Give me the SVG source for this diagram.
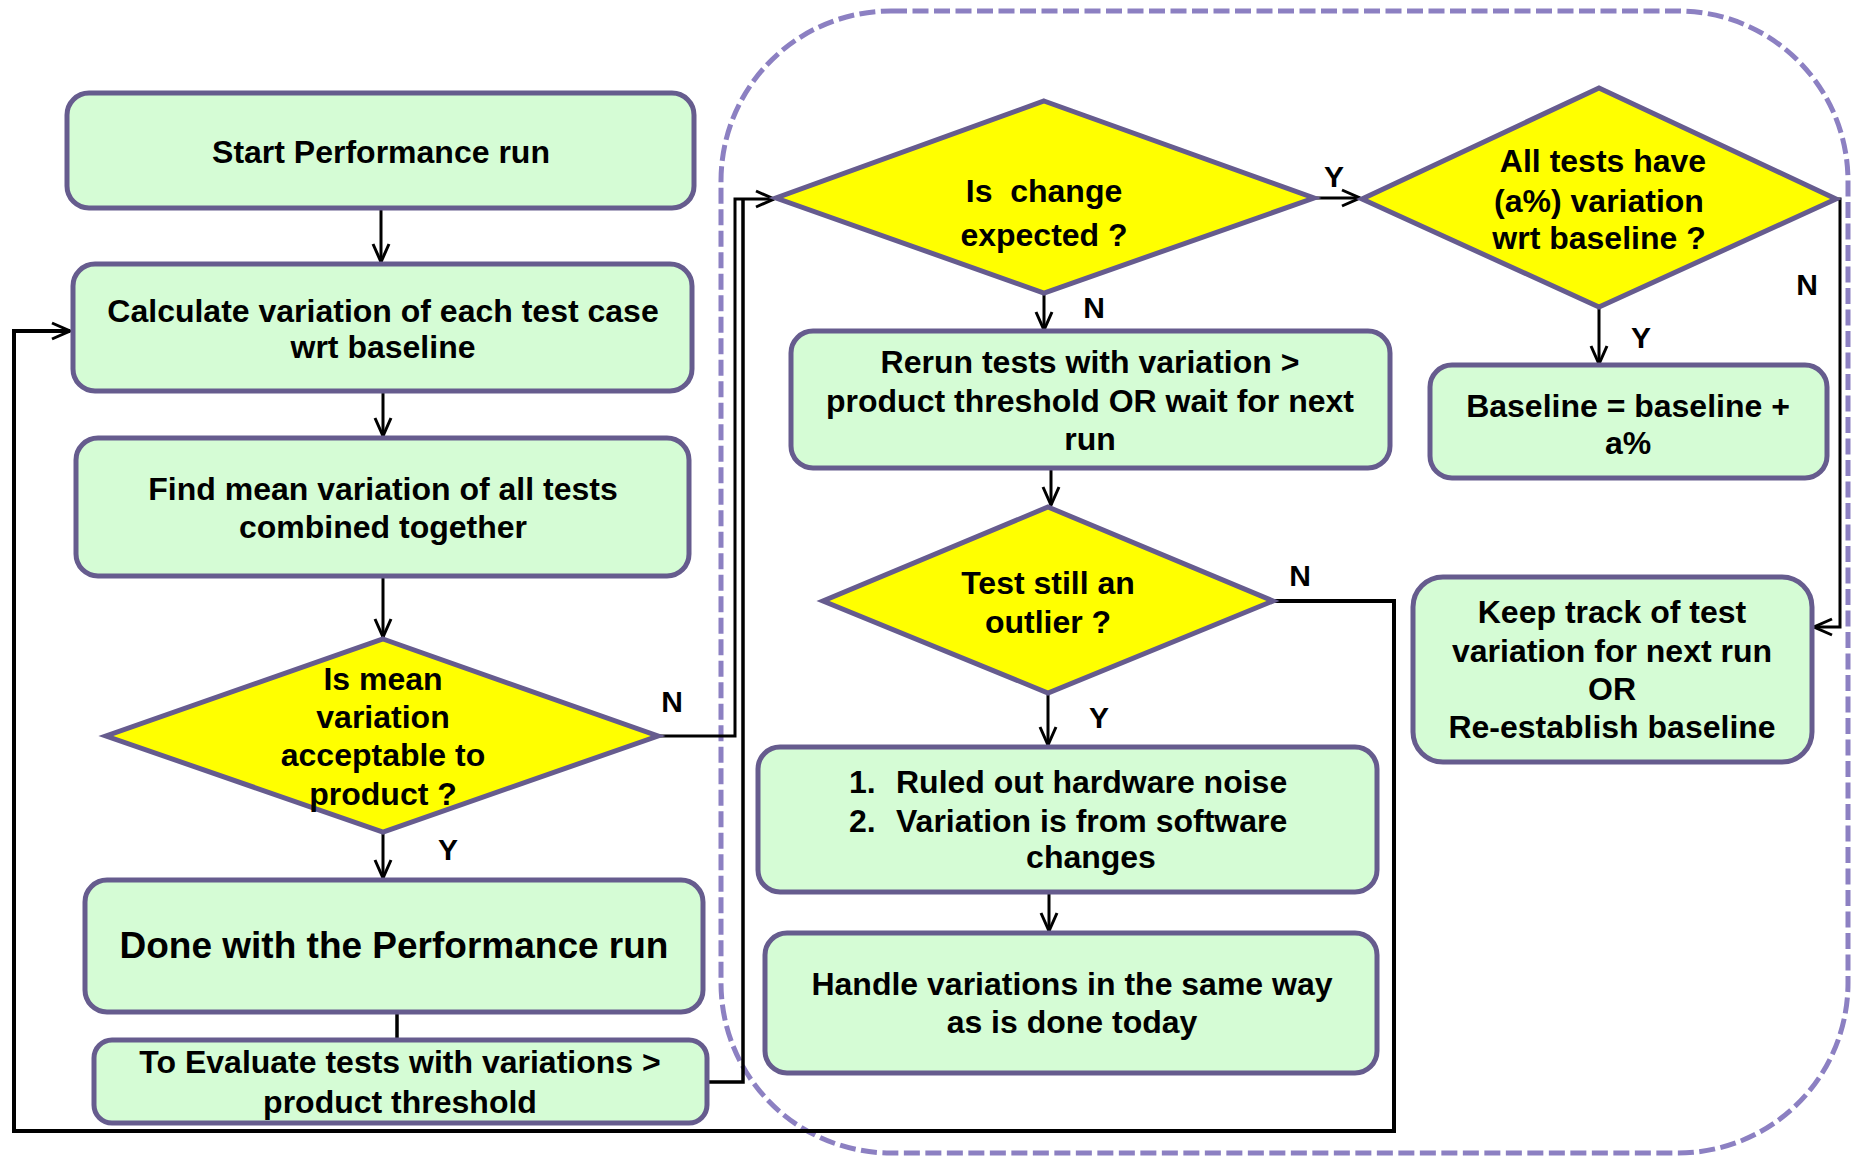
<svg xmlns="http://www.w3.org/2000/svg" width="1852" height="1156" viewBox="0 0 1852 1156">
<style>
.box{fill:#d5fcd5;stroke:#665c8e;stroke-width:5}
.dia{fill:#ffff00;stroke:#665c8e;stroke-width:5;stroke-linejoin:miter}
.t{font-family:"Liberation Sans",Arial,sans-serif;font-weight:bold;font-size:32px;fill:#000;text-anchor:middle}
.big{font-size:37px}
.lbl{font-family:"Liberation Sans",Arial,sans-serif;font-weight:bold;font-size:30px;fill:#000;text-anchor:middle}
.c{fill:none;stroke:#000;stroke-width:3.5}
.ca{fill:none;stroke:#000;stroke-width:3;marker-end:url(#ah)}
.grp{fill:none;stroke:#8c80c2;stroke-width:5;stroke-dasharray:16 5.5}
</style>
<defs>
<marker id="ah" viewBox="0 0 20 20" refX="19" refY="10" markerWidth="20" markerHeight="20" markerUnits="userSpaceOnUse" orient="auto">
<path d="M1,2 L19,10 L1,18" fill="none" stroke="#000" stroke-width="3"/>
</marker>
</defs>
<rect width="1852" height="1156" fill="#fff"/>
<rect id="group-border" class="grp" x="721" y="11" width="1127" height="1142" rx="170" ry="170"/>

<g id="connectors">
<path class="ca" d="M381,209 V262"/>
<path class="ca" d="M383,392 V436"/>
<path class="ca" d="M383,577 V637"/>
<path class="ca" d="M383,834 V878"/>
<path class="c" d="M397,1012 V1040"/>
<path class="ca" d="M658,736 H735 V199 H774"/>
<path class="c" d="M707,1082 H743 V199"/>
<path class="ca" d="M1314,198 H1360"/>
<path class="ca" d="M1044,294 V330"/>
<path class="ca" d="M1051,468 V505"/>
<path class="ca" d="M1048,694 V745"/>
<path class="ca" d="M1049,892 V931"/>
<path class="ca" d="M1273,601 H1394 V1131 H14 V331 H70" style="stroke-width:4"/>
<path class="ca" d="M1599,308 V364"/>
<path class="ca" d="M1836,199 H1840 V627 H1814"/>
<text class="lbl" x="448" y="860">Y</text>
<text class="lbl" x="672" y="712">N</text>
<text class="lbl" x="1334" y="187">Y</text>
<text class="lbl" x="1094" y="318">N</text>
<text class="lbl" x="1300" y="586">N</text>
<text class="lbl" x="1099" y="728">Y</text>
<text class="lbl" x="1641" y="348">Y</text>
<text class="lbl" x="1807" y="295">N</text>
</g>

<g id="start">
<rect class="box" x="67" y="93" width="627" height="115" rx="22"/>
<text class="t" x="381" y="163">Start Performance run</text>
</g>
<g id="calc">
<rect class="box" x="73" y="264" width="619" height="127" rx="22"/>
<text class="t" x="383" y="322">Calculate variation of each test case</text>
<text class="t" x="383" y="358">wrt baseline</text>
</g>
<g id="find">
<rect class="box" x="76" y="438" width="613" height="138" rx="22"/>
<text class="t" x="383" y="500">Find mean variation of all tests</text>
<text class="t" x="383" y="538">combined together</text>
</g>
<g id="decision-mean">
<polygon class="dia" points="383,639 658,736 383,832 106,736"/>
<text class="t" x="383" y="690">Is mean</text>
<text class="t" x="383" y="728">variation</text>
<text class="t" x="383" y="766">acceptable to</text>
<text class="t" x="383" y="805">product ?</text>
</g>
<g id="done">
<rect class="box" x="85" y="880" width="618" height="132" rx="22"/>
<text class="t big" x="394" y="958">Done with the Performance run</text>
</g>
<g id="evaluate">
<rect class="box" x="94" y="1040" width="613" height="83" rx="18"/>
<text class="t" x="400" y="1073">To Evaluate tests with variations &gt;</text>
<text class="t" x="400" y="1113">product threshold</text>
</g>
<g id="decision-change">
<polygon class="dia" points="1044,101 1314,198 1044,293 776,198"/>
<text class="t" x="1044" y="202" xml:space="preserve">Is  change</text>
<text class="t" x="1044" y="246">expected ?</text>
</g>
<g id="decision-all">
<polygon class="dia" points="1599,88 1836,199 1599,307 1362,199"/>
<text class="t" x="1603" y="172">All tests have</text>
<text class="t" x="1599" y="212">(a%) variation</text>
<text class="t" x="1599" y="249">wrt baseline ?</text>
</g>
<g id="rerun">
<rect class="box" x="791" y="331" width="599" height="137" rx="22"/>
<text class="t" x="1090" y="373">Rerun tests with variation &gt;</text>
<text class="t" x="1090" y="412">product threshold OR wait for next</text>
<text class="t" x="1090" y="450">run</text>
</g>
<g id="baseline">
<rect class="box" x="1430" y="365" width="397" height="113" rx="22"/>
<text class="t" x="1628" y="417">Baseline = baseline +</text>
<text class="t" x="1628" y="454">a%</text>
</g>
<g id="keep-track">
<rect class="box" x="1413" y="577" width="399" height="185" rx="30"/>
<text class="t" x="1612" y="623">Keep track of test</text>
<text class="t" x="1612" y="662">variation for next run</text>
<text class="t" x="1612" y="700">OR</text>
<text class="t" x="1612" y="738">Re-establish baseline</text>
</g>
<g id="decision-outlier">
<polygon class="dia" points="1048,507 1273,601 1048,693 823,601"/>
<text class="t" x="1048" y="594">Test still an</text>
<text class="t" x="1048" y="633">outlier ?</text>
</g>
<g id="ruled-out">
<rect class="box" x="758" y="747" width="619" height="145" rx="22"/>
<text class="t" x="849" y="793" style="text-anchor:start">1.</text>
<text class="t" x="896" y="793" style="text-anchor:start">Ruled out hardware noise</text>
<text class="t" x="849" y="832" style="text-anchor:start">2.</text>
<text class="t" x="896" y="832" style="text-anchor:start">Variation is from software</text>
<text class="t" x="1091" y="868">changes</text>
</g>
<g id="handle">
<rect class="box" x="765" y="933" width="612" height="140" rx="22"/>
<text class="t" x="1072" y="995">Handle variations in the same way</text>
<text class="t" x="1072" y="1033">as is done today</text>
</g>
</svg>
